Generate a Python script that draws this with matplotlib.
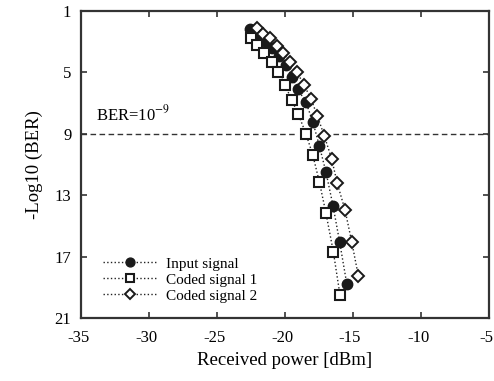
import matplotlib
matplotlib.use("Agg")
import matplotlib.pyplot as plt
import matplotlib.transforms as mtransforms

plt.rcParams['font.family'] = ['Liberation Serif', 'DejaVu Serif']
plt.rcParams['mathtext.fontset'] = 'stix'

# Data (received power in dBm, -log10(BER))
input_x = [-22.57, -22.0, -21.45, -20.93, -20.42, -19.93, -19.51, -19.07, -18.46,
           -17.96, -17.48, -16.99, -16.47, -15.99, -15.46]
input_y = [2.17, 2.55, 2.95, 3.4, 3.91, 4.52, 5.28, 6.08, 6.95,
           8.21, 9.78, 11.5, 13.7, 16.03, 18.78]

coded1_x = [-22.5, -22.04, -21.52, -20.98, -20.49, -20.0, -19.51, -19.02, -18.46,
            -17.96, -17.48, -16.99, -16.45, -15.96]
coded1_y = [2.74, 3.21, 3.72, 4.34, 4.95, 5.82, 6.8, 7.73, 9.01,
            10.38, 12.12, 14.18, 16.68, 19.5]

coded2_x = [-22.08, -21.64, -21.1, -20.61, -20.13, -19.63, -19.14, -18.6, -18.09,
            -17.63, -17.11, -16.57, -16.16, -15.59, -15.1, -14.61]
coded2_y = [2.13, 2.52, 2.78, 3.26, 3.72, 4.34, 4.95, 5.82, 6.73,
            7.82, 9.14, 10.64, 12.23, 13.96, 16.03, 18.26]

series_labels = ["Input signal", "Coded signal 1", "Coded signal 2"]
x_ticks = [-35, -30, -25, -20, -15, -10, -5]
y_ticks = [1, 5, 9, 13, 17, 21]
ber_level = 9
ber_gap = (-19.26, -16.47)

fig = plt.figure(figsize=(4.94, 3.81), dpi=100)
ax = fig.add_axes([0.164, 0.1654, 0.826, 0.8057])

# threshold line
ax.hlines(ber_level, -35, ber_gap[0], colors='#333333', linestyles=(0, (4, 2.5)), linewidth=1.0)
ax.hlines(ber_level, ber_gap[1], -5, colors='#333333', linestyles=(0, (4, 2.5)), linewidth=1.0)
ax.text(-33.9, 8.15, r'BER=10$^{-9}$', fontsize=12, ha='left', va='baseline')

ax.plot(input_x, input_y, linestyle=':', color='#222222', linewidth=1.0,
        marker='o', markersize=7.5, markerfacecolor='#1a1a1a', markeredgecolor='#1a1a1a',
        label=series_labels[0])
ax.plot(coded1_x, coded1_y, linestyle=':', color='#222222', linewidth=1.0,
        marker='s', markersize=6.5, markerfacecolor='white', markeredgecolor='#1a1a1a',
        markeredgewidth=1.5, label=series_labels[1])
ax.plot(coded2_x, coded2_y, linestyle=':', color='#222222', linewidth=1.0,
        marker='D', markersize=6, markerfacecolor='white', markeredgecolor='#1a1a1a',
        markeredgewidth=1.4, label=series_labels[2])

ax.set_xlim(-35, -5)
ax.set_ylim(21, 1)
ax.set_xticks(x_ticks)
ax.set_yticks(y_ticks)
ax.set_xticklabels([str(t) for t in x_ticks])
ax.set_yticklabels([str(t) for t in y_ticks])

ax.tick_params(direction='in', length=4, width=1.2, color='#333333',
               top=True, right=True, labelsize=12)
ax.tick_params(axis='x', pad=9)
ax.tick_params(axis='y', pad=7)
shift = mtransforms.ScaledTranslation(-3 / 100, 0, fig.dpi_scale_trans)
for lbl in ax.get_xticklabels():
    lbl.set_transform(lbl.get_transform() + shift)

for s in ax.spines.values():
    s.set_linewidth(1.6)
    s.set_color('#333333')

ax.set_xlabel('Received power [dBm]', fontsize=13.5, labelpad=4)
ax.set_ylabel('-Log10 (BER)', fontsize=13.5, labelpad=8)

leg = ax.legend(loc='lower left', bbox_to_anchor=(0.02, 0.005), frameon=False,
                fontsize=11, handlelength=3.6, handletextpad=0.5,
                labelspacing=0.15, markerscale=0.85)

fig.savefig('out.png', dpi=100)
